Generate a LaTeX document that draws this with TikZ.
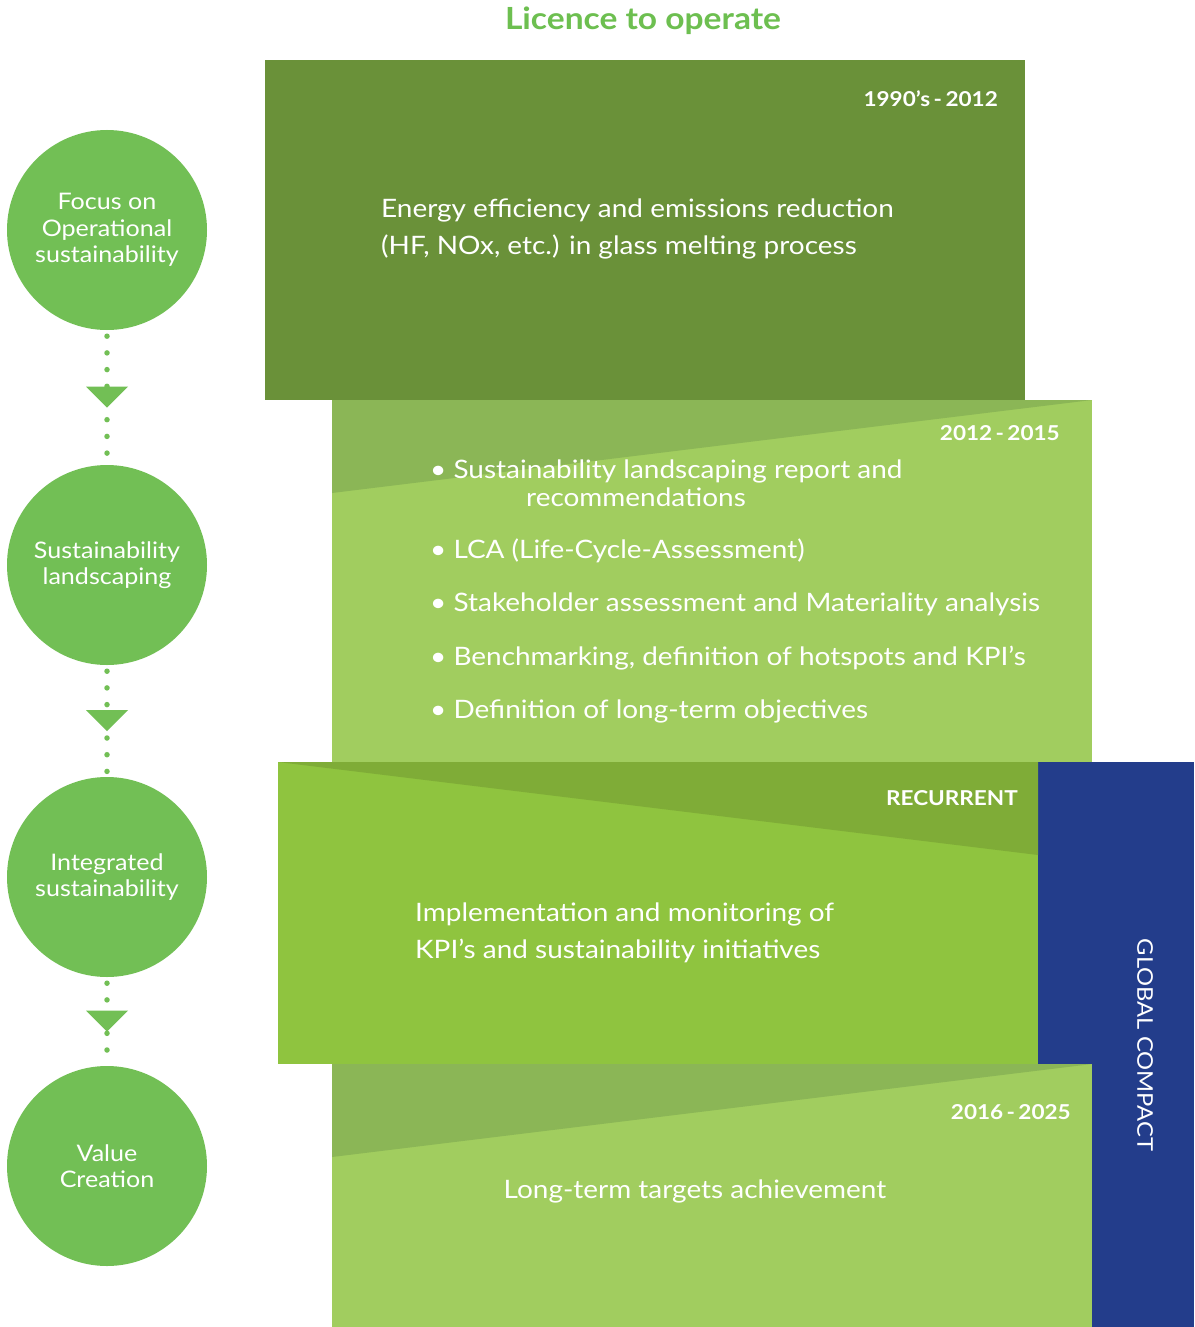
\documentclass[tikz,border=0pt]{standalone}
\usepackage{fontspec}
\setmainfont{Lato}[FakeStretch=1.1]
\usetikzlibrary{calc,decorations.markings}
\definecolor{titlegreen}{HTML}{6DBF50}
\definecolor{circgreen}{HTML}{72BF55}
\definecolor{boxdark}{HTML}{6A9139}
\definecolor{boxlight}{HTML}{A1CD5F}
\definecolor{trilight}{HTML}{8BB656}
\definecolor{boxmid}{HTML}{8FC43F}
\definecolor{trimid}{HTML}{7FAC37}
\definecolor{gcblue}{HTML}{233D8B}
\begin{document}
\begin{tikzpicture}[x=1pt,y=-1pt,
  panel/.style={rectangle, inner sep=0pt, outer sep=0pt, anchor=north west},
  stage/.style={circle, fill=circgreen, minimum size=200pt, inner sep=0pt, text=white, align=center, font=\fontsize{22.8}{26.5}\selectfont},
  bodytext/.style={text=white, inner sep=0pt, font=\fontsize{25.4}{37}\selectfont},
  yeartext/.style={text=white, inner sep=0pt, anchor=east, font=\fontsize{20.5}{24}\selectfont\bfseries},
  bullet/.style={bodytext, anchor=west},
  flowline/.style={circgreen, line width=5.5pt, line cap=round, dash pattern=on 0pt off 16.7pt, dash phase=10.7pt,
    postaction={decorate, draw=none, decoration={markings, mark=at position 0.5 with {\fill[circgreen] (-11,-21) -- (-11,21) -- (10,0) -- cycle;}}}}
]
\useasboundingbox (0,0) rectangle (1194,1327);
\fill[white] (0,0) rectangle (1194,1327);

% title
\node[text=titlegreen, font=\fontsize{30.5}{34}\selectfont\bfseries] (title) at (643,21) {Licence to operate};

% panels
\node[panel, fill=boxdark, minimum width=760pt, minimum height=340pt] (p1) at (265,60) {};
\node[panel, fill=boxlight, minimum width=760pt, minimum height=362pt] (p2) at (332,400) {};
\fill[trilight] (p2.north west) -- (p2.north east) -- ($(p2.north west)+(0,93)$) -- cycle;
\node[panel, fill=gcblue, minimum width=156pt, minimum height=565pt] (gc) at (1038,762) {};
\node[panel, fill=boxmid, minimum width=760pt, minimum height=302pt] (p3) at (278,762) {};
\fill[trimid] (p3.north west) -- (p3.north east) -- ($(p3.north east)+(0,93)$) -- cycle;
\node[panel, fill=boxlight, minimum width=760pt, minimum height=263pt] (p4) at (332,1064) {};
\fill[trilight] (p4.north west) -- (p4.north east) -- ($(p4.north west)+(0,93)$) -- cycle;

% panel texts
\node[yeartext] (y1) at (998,99) {1990’s\,-\,2012};
\node[bodytext, anchor=west, align=left] (t1) at (381,229) {Energy efficiency and emissions reduction\\(HF, NOx, etc.) in glass melting process};

\node[yeartext] (y2) at (1060,433) {2012\,-\,2015};
\node[bullet] (b1) at (430,471) {• Sustainability landscaping report and};
\node[bodytext] (b1b) at (636,497) {recommendations};
\node[bullet] (b2) at (430,551) {• LCA (Life-Cycle-Assessment)};
\node[bullet] (b3) at (430,604) {• Stakeholder assessment and Materiality analysis};
\node[bullet] (b4) at (430,658) {• Benchmarking, definition of hotspots and KPI’s};
\node[bullet] (b5) at (430,711) {• Definition of long-term objectives};

\node[yeartext] (y3) at (1018,798) {RECURRENT};
\node[bodytext, anchor=west, align=left] (t3) at (415,933) {Implementation and monitoring of\\KPI’s and sustainability initiatives};

\node[text=white, rotate=-90, font=\fontsize{21.6}{26}\selectfont] (gct) at (1145,1045) {GLOBAL COMPACT};

\node[yeartext] (y4) at (1071,1112) {2016\,-\,2025};
\node[bodytext] (t4) at (695,1191) {Long-term targets achievement};

% stages
\node[stage] (c1) at (107,230) {Focus on\\Operational\\sustainability};
\node[stage] (c2) at (107,565) {Sustainability\\landscaping};
\node[stage] (c3) at (107,877) {Integrated\\sustainability};
\node[stage] (c4) at (107,1166) {Value\\Creation};

\draw[flowline] (c1.south) -- (c2.north);
\draw[flowline] (c2.south) -- (c3.north);
\draw[flowline] (c3.south) -- (c4.north);
\end{tikzpicture}
\end{document}
